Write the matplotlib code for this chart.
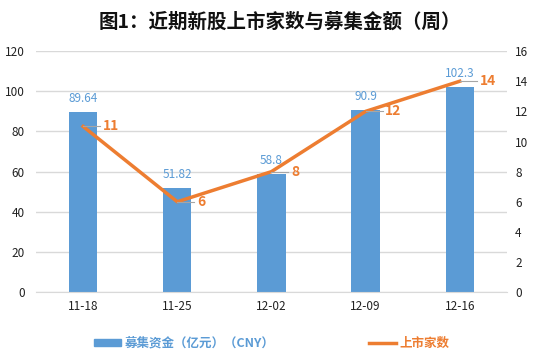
import matplotlib
matplotlib.use("Agg")
import matplotlib.pyplot as plt
import numpy as np

plt.rcParams['font.family'] = ['Noto Sans CJK SC', 'DejaVu Sans']

categories = ["11-18", "11-25", "12-02", "12-09", "12-16"]
funds = [89.64, 51.82, 58.8, 90.9, 102.3]
counts = [11, 6, 8, 12, 14]
fund_labels = ["89.64", "51.82", "58.8", "90.9", "102.3"]

blue = "#5B9BD5"
orange = "#ED7D31"
grid = "#D9D9D9"

fig = plt.figure(figsize=(5.38, 3.55), dpi=100)
ax = fig.add_axes([0.067, 0.177, 0.875, 0.679])
ax2 = ax.twinx()

x = np.arange(len(categories))
ax.bar(x, funds, width=0.3, color=blue, zorder=2)
ax.set_ylim(0, 120)
ax.set_yticks(range(0, 121, 20))
ax.set_xlim(-0.5, len(categories) - 0.5)
ax.set_xticks(x)
ax.set_xticklabels(categories)
ax.yaxis.grid(True, color=grid, linewidth=1, zorder=0)
ax.set_axisbelow(True)
for s in ax.spines.values():
    s.set_visible(False)
for s in ax2.spines.values():
    s.set_visible(False)
ax.tick_params(length=0, labelsize=8.5, colors="#222222", pad=6)
ax.tick_params(axis='y', pad=8)
ax.spines['bottom'].set_visible(True)
ax.spines['bottom'].set_color(grid)

for xi, v, lab in zip(x, funds, fund_labels):
    ax.annotate(lab, (xi, v), xytext=(0, 5), textcoords="offset points",
                ha="center", va="bottom", color=blue, fontsize=8.5)

ax2.plot(x, counts, color=orange, linewidth=2.5, zorder=3)
ax2.set_ylim(0, 16)
ax2.set_yticks(range(0, 17, 2))
ax2.tick_params(length=0, labelsize=8.5, colors="#222222", pad=6)

for xi, c in zip(x, counts):
    ax2.plot([xi, xi + 0.18], [c, c], color="#A6A6A6", linewidth=0.8, zorder=4)
    ax2.annotate(str(c), (xi + 0.18, c), xytext=(2, 0), textcoords="offset points",
                 ha="left", va="center", color=orange, fontsize=10, fontweight="bold")

fig.text(0.52, 0.937, "图1：近期新股上市家数与募集金额（周）", ha="center", va="center",
         fontsize=14, fontweight="bold", color="#111111")

from matplotlib.patches import Patch
from matplotlib.lines import Line2D
handles = [Patch(color=blue), Line2D([0], [0], color=orange, linewidth=2.5)]
leg = fig.legend(handles, ["募集资金（亿元）（CNY）", "上市家数"], loc="center",
                 bbox_to_anchor=(0.505, 0.033), ncol=2, frameon=False, fontsize=9,
                 handlelength=2.2, handleheight=0.5, columnspacing=7.5, handletextpad=0.3)
for t, c in zip(leg.get_texts(), [blue, orange]):
    t.set_color(c)
    t.set_fontweight("bold")

fig.savefig("out.png", dpi=100)
